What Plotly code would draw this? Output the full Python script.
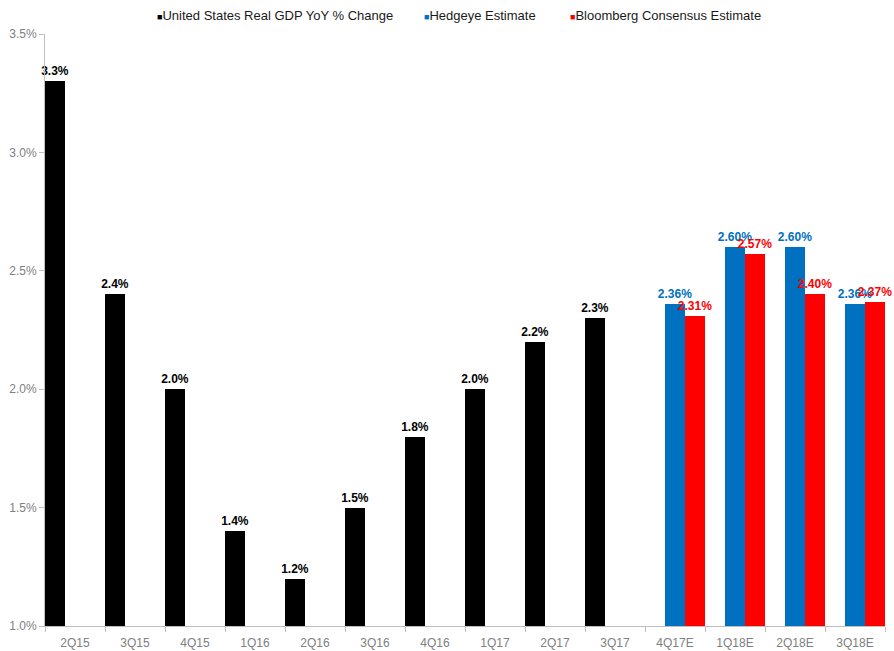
import plotly.graph_objects as go

categories = ["2Q15", "3Q15", "4Q15", "1Q16", "2Q16", "3Q16", "4Q16", "1Q17", "2Q17", "3Q17",
              "4Q17E", "1Q18E", "2Q18E", "3Q18E"]
actual = [3.3, 2.4, 2.0, 1.4, 1.2, 1.5, 1.8, 2.0, 2.2, 2.3, None, None, None, None]
hedgeye = [None] * 10 + [2.36, 2.60, 2.60, 2.36]
bloomberg = [None] * 10 + [2.31, 2.57, 2.40, 2.37]

series_names = ["United States Real GDP YoY % Change", "Hedgeye Estimate", "Bloomberg Consensus Estimate"]
series_colors = ["#000000", "#0070C0", "#FF0000"]
legend_x_px = [155, 422, 568]

FONT = "Liberation Sans"

fig = go.Figure()
for vals, name, color, fmt in zip([actual, hedgeye, bloomberg], series_names, series_colors,
                                  ["%{y:.1f}%", "%{y:.2f}%", "%{y:.2f}%"]):
    fig.add_trace(go.Bar(
        x=categories, y=vals, name=name, showlegend=False,
        marker=dict(color=color, line=dict(width=0)),
        texttemplate=fmt, textposition="outside", cliponaxis=False, constraintext="none",
        textfont=dict(color=color, size=12, family=FONT, weight="bold"),
    ))

W, H = 894, 651
for name, color, xp in zip(series_names, series_colors, legend_x_px):
    fig.add_annotation(
        xref="paper", yref="paper", x=(xp - 45) / (W - 45 - 9), y=(H - 15 - 25) / (H - 34 - 25),
        xanchor="left", yanchor="middle", showarrow=False,
        text=f"<span style='color:{color};font-size:9px'>■</span>{name}",
        font=dict(family=FONT, size=13, color="#1a1a1a"),
    )

fig.update_layout(
    width=W, height=H,
    margin=dict(l=45, r=9, t=34, b=25, autoexpand=False),
    paper_bgcolor="white", plot_bgcolor="white",
    barmode="group", bargap=0, bargroupgap=0,
    font=dict(family=FONT, size=12, color="#808080"),
    showlegend=False,
    xaxis=dict(type="category", showgrid=False, showline=True, linecolor="#BFBFBF",
               linewidth=1, ticks="outside", tickson="boundaries", ticklen=5,
               tickcolor="#BFBFBF", tickfont=dict(color="#808080", size=12),
               ticklabelstandoff=6),
    yaxis=dict(range=[1.0, 3.5], dtick=0.5, tickformat=".1f", ticksuffix="%",
               showgrid=False, showline=True, linecolor="#BFBFBF", linewidth=1,
               ticks="outside", ticklen=5, tickcolor="#BFBFBF",
               tickfont=dict(color="#808080", size=12), zeroline=False),
)

fig.write_html("out.html")
